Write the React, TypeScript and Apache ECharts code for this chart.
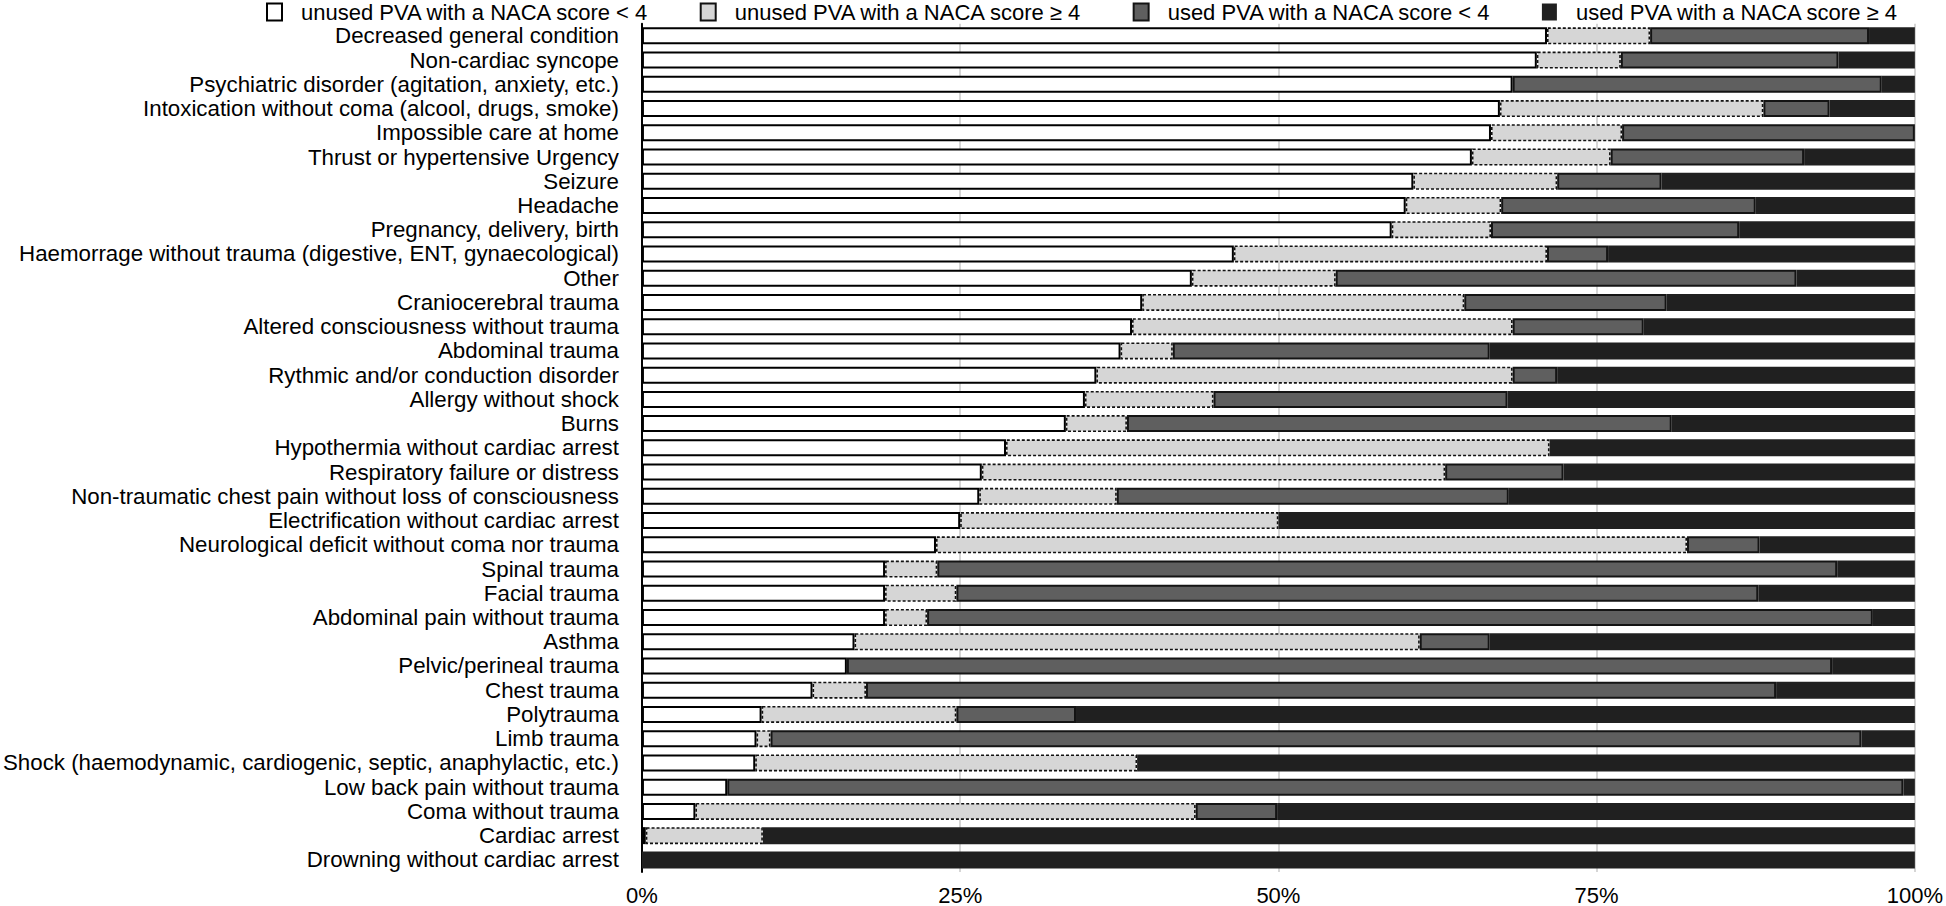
import React, { useEffect, useRef } from "react";
import * as echarts from "echarts";

const categories = [
  "Decreased general condition",
  "Non-cardiac syncope",
  "Psychiatric disorder (agitation, anxiety, etc.)",
  "Intoxication without coma (alcool, drugs, smoke)",
  "Impossible care at home",
  "Thrust or hypertensive Urgency",
  "Seizure",
  "Headache",
  "Pregnancy, delivery, birth",
  "Haemorrage without trauma (digestive, ENT, gynaecological)",
  "Other",
  "Craniocerebral trauma",
  "Altered consciousness without trauma",
  "Abdominal trauma",
  "Rythmic and/or conduction disorder",
  "Allergy without shock",
  "Burns",
  "Hypothermia without cardiac arrest",
  "Respiratory failure or distress",
  "Non-traumatic chest pain without loss of consciousness",
  "Electrification without cardiac arrest",
  "Neurological deficit without coma nor trauma",
  "Spinal trauma",
  "Facial trauma",
  "Abdominal pain without trauma",
  "Asthma",
  "Pelvic/perineal trauma",
  "Chest trauma",
  "Polytrauma",
  "Limb trauma",
  "Shock (haemodynamic, cardiogenic, septic, anaphylactic, etc.)",
  "Low back pain without trauma",
  "Coma without trauma",
  "Cardiac arrest",
  "Drowning without cardiac arrest",
];

const seriesNames = [
  "unused PVA with a NACA score < 4",
  "unused PVA with a NACA score ≥ 4",
  "used PVA with a NACA score < 4",
  "used PVA with a NACA score ≥ 4",
];

// percentages per category (same order as categories)
const unusedLow = [
  71.1, 70.3, 68.4, 67.4, 66.7, 65.2, 60.6, 60.0, 58.9, 46.5, 43.2, 39.3, 38.5, 37.6, 35.7, 34.8, 33.3, 28.6,
  26.7, 26.5, 25.0, 23.1, 19.1, 19.1, 19.1, 16.7, 16.1, 13.4, 9.4, 9.0, 8.9, 6.7, 4.2, 0.3, 0,
];
const unusedHigh = [
  8.1, 6.6, 0, 20.7, 10.3, 10.9, 11.3, 7.5, 7.8, 24.6, 11.3, 25.3, 29.9, 4.1, 32.7, 10.1, 4.8, 42.7,
  36.4, 10.8, 25.0, 59.0, 4.1, 5.6, 3.3, 44.4, 0, 4.2, 15.3, 1.1, 30.0, 0, 39.3, 9.2, 0,
];
const usedLow = [
  17.2, 17.1, 29.0, 5.2, 23.0, 15.2, 8.2, 20.0, 19.5, 4.8, 36.2, 15.9, 10.3, 24.9, 3.5, 23.1, 42.8, 0,
  9.3, 30.8, 0, 5.7, 70.7, 63.0, 74.3, 5.5, 77.4, 71.5, 9.4, 85.7, 0, 92.4, 6.4, 0, 0,
];
const usedHigh = [
  3.6, 6.0, 2.6, 6.7, 0, 8.7, 19.9, 12.5, 13.8, 24.1, 9.3, 19.5, 21.3, 33.4, 28.1, 32.0, 19.1, 28.7,
  27.6, 31.9, 50.0, 12.2, 6.1, 12.3, 3.3, 33.4, 6.5, 10.9, 65.9, 4.2, 61.1, 0.9, 50.1, 90.5, 100,
];

const xTickValues = [0, 25, 50, 75, 100];

const FONT = "'Liberation Sans', Arial, Helvetica, sans-serif";

const seriesStyles = [
  { color: "#ffffff", borderColor: "#000000", borderWidth: 2 },
  { color: "#d6d6d6", borderColor: "#111111", borderWidth: 1.6, borderType: [3, 2] },
  { color: "#5f5f5f", borderColor: "#141414", borderWidth: 2 },
  { color: "#202020", borderColor: "#202020", borderWidth: 0 },
];

export default function App() {
  const ref = useRef<HTMLDivElement>(null);

  useEffect(() => {
    if (!ref.current) return;
    const chart = echarts.init(ref.current, null, { renderer: "svg" });
    const allData = [unusedLow, unusedHigh, usedLow, usedHigh];
    const option: any = {
      animation: false,
      backgroundColor: "#ffffff",
      textStyle: { fontFamily: FONT },
      legend: {
        data: seriesNames,
        left: 266,
        top: 1,
        padding: 0,
        icon: "rect",
        itemWidth: 15,
        itemHeight: 17,
        itemGap: 50,
        textStyle: { fontSize: 22, color: "#000", fontFamily: FONT, padding: [0, 0, 0, 14] },
      },
      grid: { left: 641.5, right: 28, top: 23.7, bottom: 32.6, containLabel: false },
      xAxis: {
        type: "value",
        min: 0,
        max: 100,
        interval: 25,
        axisLine: { show: false },
        axisTick: { show: false },
        splitLine: { show: true, lineStyle: { color: "#c8c8c8", width: 1.5 } },
        axisLabel: {
          fontSize: 22,
          color: "#000",
          fontFamily: FONT,
          margin: 12,
          formatter: (v: number) => (xTickValues.includes(v) ? v + "%" : ""),
        },
      },
      yAxis: {
        type: "category",
        data: categories,
        inverse: true,
        axisLine: { show: true, lineStyle: { color: "#000", width: 2 } },
        axisTick: { show: false },
        axisLabel: { fontSize: 22.3, color: "#000", fontFamily: FONT, margin: 23, interval: 0 },
        splitLine: { show: false },
      },
      series: seriesNames.map((name, i) => ({
        name,
        type: "bar",
        stack: "total",
        barWidth: 17,
        itemStyle: seriesStyles[i],
        emphasis: { disabled: true },
        data: allData[i].map((v) => (v === 0 ? null : v)),
      })),
    };
    chart.setOption(option);
    return () => chart.dispose();
  }, []);

  return (
    <div
      ref={ref}
      style={{ position: "fixed", left: 0, top: 0, width: 1946, height: 906, background: "#fff" }}
    />
  );
}
